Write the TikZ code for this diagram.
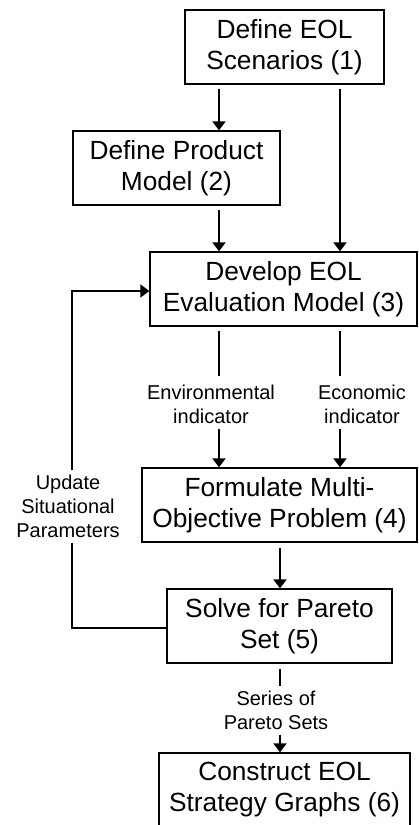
\documentclass[tikz,border=0pt]{standalone}
\usepackage{fontspec}
\setmainfont{Liberation Sans}
\usetikzlibrary{arrows.meta}
\begin{document}
\begin{tikzpicture}[x=1pt,y=-1pt,
  box/.style={draw,line width=1.3pt,rectangle,inner sep=0pt,align=center,
    font=\fontsize{26.3}{31}\selectfont},
  lbl/.style={inner sep=0pt,align=center,font=\fontsize{20}{24}\selectfont},
  arr/.style={line width=2pt,-{Triangle[length=9pt,width=13pt]}},
  ln/.style={line width=2pt}]
\useasboundingbox (0,0) rectangle (418,825);
\begin{scope}
\clip (0,0) rectangle (418,825);
\node[box,minimum width=199pt,minimum height=74pt] (b1) at (284.5,47) {Define EOL\\Scenarios (1)};
\node[box,minimum width=207pt,minimum height=74pt] (b2) at (176.5,168) {Define Product\\Model (2)};
\node[box,minimum width=267pt,minimum height=74pt] (b3) at (283.5,289) {Develop EOL\\Evaluation Model (3)};
\node[box,minimum width=275pt,minimum height=74pt] (b4) at (279.5,505) {Formulate Multi-\\Objective Problem (4)};
\node[box,minimum width=225pt,minimum height=74pt] (b5) at (279.5,626) {Solve for Pareto\\Set (5)};
\node[box,minimum width=251pt,minimum height=74pt] (b6) at (284.5,790) {Construct EOL\\Strategy Graphs (6)};
\end{scope}
\coordinate (xa) at (219,0);
\coordinate (xb) at (340,0);
\coordinate (xc) at (280,0);
\coordinate (xf) at (72,0);
\node[lbl] (env) at (211,404) {Environmental\\indicator};
\node[lbl] (eco) at (362,404) {Economic\\indicator};
\node[lbl] (upd) at (68,506) {Update\\Situational\\Parameters};
\node[lbl] (ser) at (276,710) {Series of\\Pareto Sets};
% arrows
\draw[arr,shorten <=4pt] (b1.south -| xa) -- (b2.north -| xa);
\draw[arr,shorten <=4pt] (b1.south -| xb) -- (b3.north -| xb);
\draw[arr,shorten <=4pt] (b2.south -| xa) -- (b3.north -| xa);
\draw[ln,shorten <=4pt,shorten >=8pt] (b3.south -| xa) -- (env.north -| xa);
\draw[ln,shorten <=4pt,shorten >=8pt] (b3.south -| xb) -- (eco.north -| xb);
\draw[arr,shorten <=5pt] (env.south -| xa) -- (b4.north -| xa);
\draw[arr,shorten <=5pt] (eco.south -| xb) -- (b4.north -| xb);
\draw[arr,shorten <=5pt] (b4.south -| xc) -- (b5.north -| xc);
\draw[ln,shorten <=5pt,shorten >=4pt] (b5.south -| xc) -- (ser.north -| xc);
\draw[arr,shorten <=5pt] (ser.south -| xc) -- (b6.north -| xc);
\draw[ln,shorten >=5pt] ([yshift=-2pt]b5.west) -| (upd.south -| xf);
\draw[arr,shorten <=4pt] (upd.north -| xf) |- ([yshift=-2pt]b3.west);
\end{tikzpicture}
\end{document}
